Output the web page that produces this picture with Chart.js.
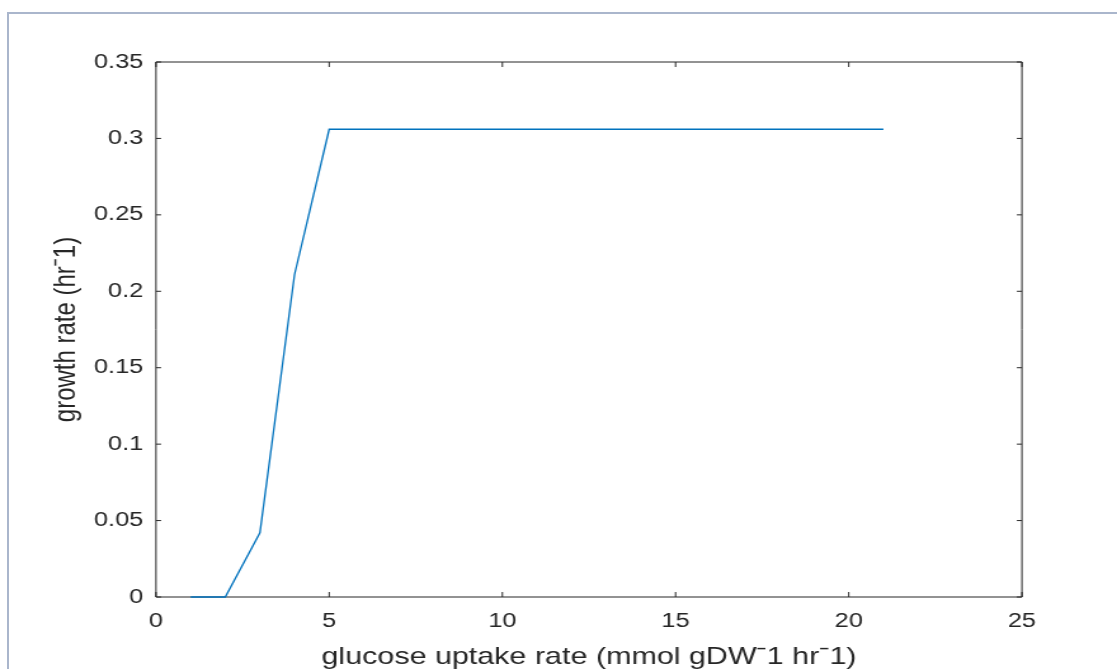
<!DOCTYPE html>
<html>
<head>
<meta charset="utf-8">
<script src="https://cdn.jsdelivr.net/npm/chart.js@4"></script>
<style>
html,body{margin:0;padding:0;background:#fff;overflow:hidden;}
#wrap{position:relative;width:1117px;height:669px;}
#chart{position:absolute;left:0;top:0;}
#frame{position:absolute;left:7px;top:12px;width:1200px;height:700px;border-left:2px solid #aab6cc;border-top:2px solid #aab6cc;pointer-events:none;}
</style>
</head>
<body>
<div id="wrap">
<canvas id="chart" width="880" height="669" style="width:1117px;height:669px"></canvas>
<div id="frame"></div>
</div>
<script>
// glucose uptake vs growth rate
const glucose = [1, 2, 3, 4, 5, 6, 7, 8, 9, 10, 11, 12, 13, 14, 15, 16, 17, 18, 19, 20, 21];
const growth = [0, 0, 0.042, 0.211, 0.306, 0.306, 0.306, 0.306, 0.306, 0.306, 0.306,
                0.306, 0.306, 0.306, 0.306, 0.306, 0.306, 0.306, 0.306, 0.306, 0.306];

const xTicks = [0, 5, 10, 15, 20, 25];
const xTickLabels = ['0', '5', '10', '15', '20', '25'];
const yTicks = [0, 0.05, 0.1, 0.15, 0.2, 0.25, 0.3, 0.35];
const yTickLabels = ['0', '0.05', '0.1', '0.15', '0.2', '0.25', '0.3', '0.35'];

const axisColor = '#262626';

Chart.defaults.font.family = '"Liberation Sans", Arial, sans-serif';
Chart.defaults.color = axisColor;

// matlab style box with inward ticks
const boxPlugin = {
    id: 'box',
    beforeDatasetsDraw(chart){
        const c = chart.ctx, a = chart.chartArea;
        const xs = chart.scales.x, ys = chart.scales.y;
        const len = 5;
        c.save();
        c.strokeStyle = axisColor;
        c.lineWidth = 1;
        c.beginPath();
        c.rect(a.left, a.top, a.right - a.left, a.bottom - a.top);
        xs.ticks.forEach(t=>{
            const px = xs.getPixelForValue(t.value);
            c.moveTo(px, a.bottom); c.lineTo(px, a.bottom - len);
            c.moveTo(px, a.top); c.lineTo(px, a.top + len);
        });
        ys.ticks.forEach(t=>{
            const py = ys.getPixelForValue(t.value);
            c.moveTo(a.left, py); c.lineTo(a.left + len * 0.8, py);
            c.moveTo(a.right, py); c.lineTo(a.right - len * 0.8, py);
        });
        c.stroke();
        c.restore();
    }
};

const ctx = document.getElementById('chart').getContext('2d');

const chart = new Chart(ctx, {
    type: 'line',
    data: {
        datasets: [{
            data: glucose.map((g, i) => ({ x: g, y: growth[i] })),
            borderColor: '#0072BD',
            borderWidth: 1.3,
            pointRadius: 0,
            tension: 0,
            clip: false
        }]
    },
    options: {
        responsive: false,
        animation: false,
        events: [],
        layout: { padding: { left: 0, top: 62, right: 74.9, bottom: 0 } },
        plugins: { legend: { display: false }, tooltip: { enabled: false } },
        scales: {
            x: {
                type: 'linear', min: 0, max: 25,
                afterBuildTicks: s => { s.ticks = xTicks.map(v => ({ value: v })); },
                afterFit: s => { s.height = 72; },
                grid: { display: false, drawTicks: false },
                border: { display: false },
                ticks: { padding: 12, font: { size: 20 }, maxRotation: 0,
                         callback: (v, i) => xTickLabels[i] },
                title: { display: true, text: 'glucose uptake rate (mmol gDWˉ1 hrˉ1)',
                         font: { size: 24, lineHeight: 1 }, padding: { top: 0, bottom: 0 } }
            },
            y: {
                type: 'linear', min: 0, max: 0.35,
                afterBuildTicks: s => { s.ticks = yTicks.map(v => ({ value: v })); },
                afterFit: s => { s.width = 122.9; },
                grid: { display: false, drawTicks: false },
                border: { display: false },
                ticks: { padding: 10, font: { size: 20 },
                         callback: (v, i) => yTickLabels[i] },
                title: { display: true, text: 'growth rate (hrˉ1)',
                         font: { size: 24, lineHeight: 1 }, padding: { top: 40.6, bottom: 0 } }
            }
        }
    },
    plugins: [boxPlugin]
});
</script>
</body>
</html>
